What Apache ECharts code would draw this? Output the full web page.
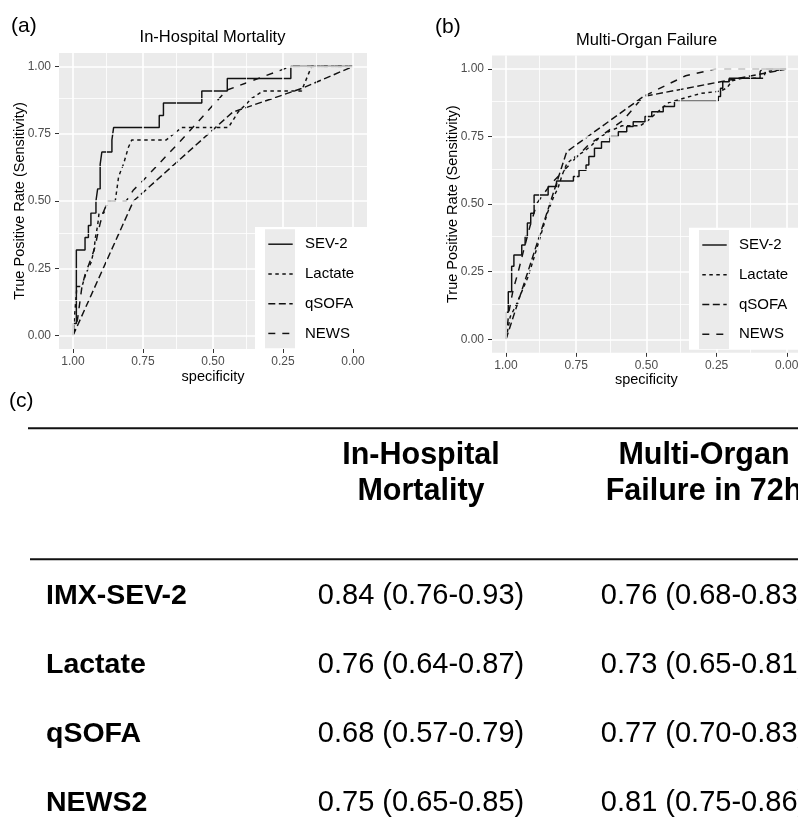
<!DOCTYPE html>
<html>
<head>
<meta charset="utf-8">
<script src="https://cdn.jsdelivr.net/npm/echarts@6/dist/echarts.min.js"></script>
<style>
  html, body { margin: 0; padding: 0; background: #fff; }
  #roc { width: 798px; height: 840px; }
</style>
</head>
<body>
<div id="roc"></div>
<script>
// ROC curves, points are [specificity, sensitivity]
const sevMortality = [[1,0],[1,0.045],[0.988,0.045],[0.988,0.318],[0.957,0.318],[0.957,0.364],[0.945,0.364],[0.945,0.409],[0.936,0.409],[0.936,0.455],[0.918,0.455],[0.918,0.5],[0.912,0.5],[0.912,0.545],[0.903,0.545],[0.903,0.636],[0.897,0.636],[0.897,0.682],[0.861,0.682],[0.861,0.727],[0.855,0.727],[0.855,0.773],[0.692,0.773],[0.692,0.818],[0.677,0.818],[0.677,0.864],[0.54,0.864],[0.54,0.909],[0.449,0.909],[0.449,0.955],[0.222,0.955],[0.222,1],[0,1]];
const lactateMortality = [[1,0],[0.993,0.091],[0.986,0.182],[0.968,0.182],[0.955,0.227],[0.935,0.273],[0.925,0.318],[0.92,0.364],[0.912,0.409],[0.907,0.455],[0.89,0.455],[0.875,0.5],[0.849,0.5],[0.837,0.591],[0.82,0.636],[0.802,0.7],[0.79,0.727],[0.667,0.727],[0.612,0.773],[0.445,0.773],[0.41,0.831],[0.362,0.881],[0.321,0.909],[0.184,0.909],[0.148,1],[0,1]];
const qsofaMortality = [[1,0],[0.784,0.5],[0.43,0.83],[0.184,0.918],[0,1]];
const newsMortality = [[1,0],[0.984,0.059],[0.968,0.182],[0.957,0.226],[0.933,0.293],[0.921,0.33],[0.914,0.367],[0.903,0.417],[0.891,0.46],[0.875,0.5],[0.81,0.5],[0.784,0.541],[0.748,0.578],[0.617,0.722],[0.451,0.912],[0.222,1],[0,1]];

const sevMof = [[1,0],[1,0.1],[0.992,0.1],[0.992,0.176],[0.98,0.176],[0.98,0.27],[0.972,0.27],[0.972,0.312],[0.944,0.312],[0.944,0.349],[0.932,0.349],[0.932,0.38],[0.924,0.38],[0.924,0.43],[0.912,0.43],[0.912,0.466],[0.9,0.466],[0.9,0.534],[0.85,0.534],[0.85,0.565],[0.82,0.565],[0.82,0.586],[0.76,0.586],[0.76,0.602],[0.74,0.602],[0.74,0.625],[0.715,0.625],[0.715,0.645],[0.705,0.645],[0.705,0.676],[0.685,0.676],[0.685,0.707],[0.66,0.707],[0.66,0.731],[0.63,0.731],[0.63,0.75],[0.6,0.75],[0.6,0.768],[0.57,0.768],[0.57,0.787],[0.547,0.787],[0.547,0.805],[0.505,0.805],[0.505,0.824],[0.481,0.824],[0.481,0.842],[0.44,0.842],[0.44,0.861],[0.4,0.861],[0.4,0.881],[0.244,0.881],[0.244,0.898],[0.236,0.898],[0.236,0.929],[0.228,0.929],[0.228,0.953],[0.205,0.953],[0.205,0.966],[0.095,0.966],[0.095,0.99],[0.089,0.99],[0.089,1],[0,1]];
const lactateMof = [[1,0],[0.985,0.084],[0.967,0.12],[0.92,0.235],[0.885,0.355],[0.853,0.466],[0.83,0.528],[0.815,0.559],[0.8,0.608],[0.783,0.651],[0.753,0.676],[0.723,0.694],[0.694,0.719],[0.67,0.744],[0.635,0.768],[0.587,0.79],[0.522,0.79],[0.493,0.811],[0.445,0.855],[0.42,0.876],[0.37,0.891],[0.305,0.91],[0.237,0.918],[0.213,0.93],[0.195,0.956],[0.16,0.966],[0.083,0.966],[0.076,0.99],[0,1]];
const qsofaMof = [[1,0],[0.784,0.694],[0.511,0.898],[0,1]];
const newsMof = [[1,0],[0.99,0.1],[0.975,0.182],[0.955,0.256],[0.94,0.318],[0.915,0.417],[0.89,0.503],[0.843,0.571],[0.707,0.719],[0.582,0.811],[0.511,0.898],[0.428,0.941],[0.36,0.975],[0.255,1],[0,1]];

const tickValues = [0, 0.25, 0.5, 0.75, 1];
const minorValues = [0.125, 0.375, 0.625, 0.875];
const legendNames = ['SEV-2', 'Lactate', 'qSOFA', 'NEWS'];
const lineDashes = ['solid', [3.5, 3.5], [7, 3.5], [7, 7]];
const panelTitles = ['In-Hospital Mortality', 'Multi-Organ Failure'];

// table (c)
const tableHeaders = ['In-Hospital\nMortality', 'Multi-Organ\nFailure in 72h'];
const tableRows = ['IMX-SEV-2', 'Lactate', 'qSOFA', 'NEWS2'];
const mortalityAuc = ['0.84 (0.76-0.93)', '0.76 (0.64-0.87)', '0.68 (0.57-0.79)', '0.75 (0.65-0.85)'];
const mofAuc = ['0.76 (0.68-0.83)', '0.73 (0.65-0.81)', '0.77 (0.70-0.83)', '0.81 (0.75-0.86)'];

const FONT = "'Liberation Sans', Arial, Helvetica, sans-serif";
const LINE = '#111';

const chart = echarts.init(document.getElementById('roc'), null, { renderer: 'canvas' });

const grids = [
  { left: 59, top: 53, width: 308, height: 296 },
  { left: 492, top: 55.5, width: 308.8, height: 297.3 }
];

function xAxisFor(i) {
  return {
    type: 'value', gridIndex: i, min: -0.05, max: 1.05, inverse: true,
    name: 'specificity', nameLocation: 'middle', nameGap: 20, nameMoveOverlap: false,
    nameTextStyle: { fontSize: 14.5, color: '#000', fontFamily: FONT },
    axisLine: { show: false, onZero: false },
    axisTick: { show: true, customValues: tickValues, length: 4, lineStyle: { color: '#333', width: 1 } },
    axisLabel: { customValues: tickValues, formatter: v => v.toFixed(2), color: '#4d4d4d', fontSize: 12, fontFamily: FONT, margin: 7 },
    splitLine: { show: false }
  };
}

function yAxisFor(i) {
  return {
    type: 'value', gridIndex: i, min: -0.05, max: 1.05,
    name: 'True Positive Rate (Sensitivity)', nameLocation: 'middle', nameGap: 32, nameMoveOverlap: false,
    nameTextStyle: { fontSize: 14.5, color: '#000', fontFamily: FONT },
    axisLine: { show: false, onZero: false },
    axisTick: { show: true, customValues: tickValues, length: 4, lineStyle: { color: '#333', width: 1 } },
    axisLabel: { customValues: tickValues, formatter: v => v.toFixed(2), color: '#4d4d4d', fontSize: 12, fontFamily: FONT, margin: 8 },
    splitLine: { show: false }
  };
}

// white panel grid lines, drawn through the axes with markLine
function panelGrid(i) {
  const data = [];
  tickValues.forEach(v => {
    data.push({ xAxis: v, lineStyle: { width: 1.6 } });
    data.push({ yAxis: v, lineStyle: { width: 1.6 } });
  });
  minorValues.forEach(v => {
    data.push({ xAxis: v, lineStyle: { width: 0.8 } });
    data.push({ yAxis: v, lineStyle: { width: 0.8 } });
  });
  return {
    type: 'line', xAxisIndex: i, yAxisIndex: i, data: [], z: 1, silent: true,
    markLine: {
      silent: true, symbol: ['none', 'none'], label: { show: false },
      lineStyle: { color: '#fff', type: 'solid' }, animation: false, data
    }
  };
}

function curve(i, k, pts) {
  return {
    type: 'line', name: legendNames[k], xAxisIndex: i, yAxisIndex: i,
    data: pts, showSymbol: false, symbol: 'none', z: 3,
    lineStyle: { color: LINE, width: 1.45, type: lineDashes[k] }
  };
}

function legendBox(x0, dy) {
  const els = [
    { type: 'rect', z: 100, shape: { x: x0, y: 227 + dy, width: 112, height: 122 }, style: { fill: '#fff' } },
    { type: 'rect', z: 101, shape: { x: x0 + 10, y: 229.3 + dy, width: 30, height: 119 }, style: { fill: '#ebebeb' } }
  ];
  legendNames.forEach((n, k) => {
    const cy = 244.2 + dy + k * 29.75;
    els.push({ type: 'line', z: 102, shape: { x1: x0 + 13.3, y1: cy, x2: x0 + 37.7, y2: cy },
      style: { stroke: LINE, lineWidth: 1.45, lineDash: k === 0 ? null : lineDashes[k] } });
    els.push({ type: 'text', z: 102, x: x0 + 50, y: cy,
      style: { text: n, fontSize: 15, fontFamily: FONT, fill: '#000', verticalAlign: 'middle' } });
  });
  return els;
}

function label(text, x, y, size, weight, align) {
  return { type: 'text', z: 50, x, y,
    style: { text, fontSize: size, fontWeight: weight || 'normal', fontFamily: FONT, fill: '#000',
      align: align || 'left', verticalAlign: 'middle', lineHeight: 36 } };
}

const graphics = [];
graphics.push(label('(a)', 11, 26, 21));
graphics.push(label('(b)', 435, 27.5, 21));
graphics.push(label('(c)', 9, 401, 21));
graphics.push(label(panelTitles[0], 212.5, 37, 16.5, 'normal', 'center'));
graphics.push(label(panelTitles[1], 646.5, 40, 16.5, 'normal', 'center'));
graphics.push(...legendBox(255, 0));
graphics.push(...legendBox(689, 0.8));

// table
graphics.push({ type: 'line', z: 50, shape: { x1: 28, y1: 428.3, x2: 798, y2: 428.3 }, style: { stroke: '#111', lineWidth: 2 } });
graphics.push({ type: 'line', z: 50, shape: { x1: 30, y1: 559.3, x2: 798, y2: 559.3 }, style: { stroke: '#111', lineWidth: 2 } });
graphics.push(label(tableHeaders[0], 421, 474, 30.5, 'bold', 'center'));
graphics.push(label(tableHeaders[1], 704, 474, 30.5, 'bold', 'center'));
tableRows.forEach((r, k) => {
  const y = 596 + k * 69;
  graphics.push(label(r, 46, y, 28.5, 'bold'));
  graphics.push(label(mortalityAuc[k], 421, y, 29, 'normal', 'center'));
  graphics.push(label(mofAuc[k], 704, y, 29, 'normal', 'center'));
});

chart.setOption({
  animation: false,
  backgroundColor: '#fff',
  textStyle: { fontFamily: FONT },
  grid: grids.map(g => Object.assign({ show: true, backgroundColor: '#ebebeb', borderWidth: 0, outerBoundsMode: 'none' }, g)),
  xAxis: [xAxisFor(0), xAxisFor(1)],
  yAxis: [yAxisFor(0), yAxisFor(1)],
  series: [
    panelGrid(0), panelGrid(1),
    curve(0, 0, sevMortality), curve(0, 1, lactateMortality), curve(0, 2, qsofaMortality), curve(0, 3, newsMortality),
    curve(1, 0, sevMof), curve(1, 1, lactateMof), curve(1, 2, qsofaMof), curve(1, 3, newsMof)
  ],
  graphic: { elements: graphics }
});
</script>
</body>
</html>
